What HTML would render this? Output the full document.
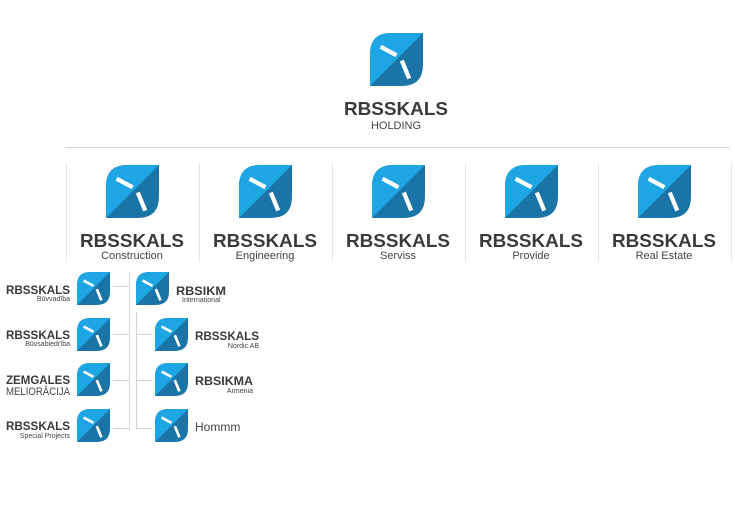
<!DOCTYPE html>
<html><head><meta charset="utf-8"><style>
html,body{margin:0;padding:0;background:#fff;width:735px;height:520px;overflow:hidden}
svg{display:block}
text{font-family:"Liberation Sans",sans-serif}
.b{font-weight:bold;fill:#3a3a3c}
.s{fill:#444}
</style></head><body>
<svg width="735" height="520" viewBox="0 0 735 520" xmlns="http://www.w3.org/2000/svg">
<defs>
<clipPath id="lc"><path d="M0,100 L0,40 Q0,0 40,0 L100,0 L100,60 Q100,100 60,100 Z"/></clipPath>
<g id="ic">
<path d="M0,100 L0,40 Q0,0 40,0 L100,0 L100,60 Q100,100 60,100 Z" fill="#1a74a6"/>
<polygon points="0,100 0,0 100,0" fill="#1ea6e4" clip-path="url(#lc)"/>
<line x1="20" y1="26" x2="50" y2="42" stroke="#fff" stroke-width="8"/>
<line x1="60" y1="52" x2="74" y2="86" stroke="#fff" stroke-width="8"/>
</g>
</defs>
<use href="#ic" transform="translate(370,33) scale(0.53)"/>
<text x="396" y="115" text-anchor="middle" class="b" font-size="18" textLength="104" lengthAdjust="spacingAndGlyphs">RBSSKALS</text>
<text x="396" y="129" text-anchor="middle" class="s" font-size="11">HOLDING</text>
<line x1="65" y1="147.5" x2="730" y2="147.5" stroke="#d8d8d8"/>
<g stroke="#e6e6e6">
<line x1="66.5" y1="163" x2="66.5" y2="262"/>
<line x1="199.5" y1="163" x2="199.5" y2="262"/>
<line x1="332.5" y1="163" x2="332.5" y2="262"/>
<line x1="465.5" y1="163" x2="465.5" y2="262"/>
<line x1="598.5" y1="163" x2="598.5" y2="262"/>
<line x1="731.5" y1="163" x2="731.5" y2="262"/>
</g>
<g>
<use href="#ic" transform="translate(106,165) scale(0.53)"/>
<use href="#ic" transform="translate(239,165) scale(0.53)"/>
<use href="#ic" transform="translate(372,165) scale(0.53)"/>
<use href="#ic" transform="translate(505,165) scale(0.53)"/>
<use href="#ic" transform="translate(638,165) scale(0.53)"/>
</g>
<g class="b" font-size="18" text-anchor="middle">
<text x="132" y="247" textLength="104" lengthAdjust="spacingAndGlyphs">RBSSKALS</text>
<text x="265" y="247" textLength="104" lengthAdjust="spacingAndGlyphs">RBSSKALS</text>
<text x="398" y="247" textLength="104" lengthAdjust="spacingAndGlyphs">RBSSKALS</text>
<text x="531" y="247" textLength="104" lengthAdjust="spacingAndGlyphs">RBSSKALS</text>
<text x="664" y="247" textLength="104" lengthAdjust="spacingAndGlyphs">RBSSKALS</text>
</g>
<g class="s" font-size="11" text-anchor="middle">
<text x="132" y="259">Construction</text>
<text x="265" y="259">Engineering</text>
<text x="398" y="259">Serviss</text>
<text x="531" y="259">Provide</text>
<text x="664" y="259">Real Estate</text>
</g>
<g stroke="#d4d4d4">
<line x1="129.5" y1="272" x2="129.5" y2="430"/>
<line x1="136.5" y1="312" x2="136.5" y2="430"/>
<line x1="113" y1="286.5" x2="129" y2="286.5"/>
<line x1="113" y1="334.5" x2="129" y2="334.5"/>
<line x1="113" y1="380.5" x2="129" y2="380.5"/>
<line x1="113" y1="428.5" x2="129" y2="428.5"/>
<line x1="137" y1="334.5" x2="152" y2="334.5"/>
<line x1="137" y1="380.5" x2="152" y2="380.5"/>
<line x1="137" y1="428.5" x2="152" y2="428.5"/>
</g>
<use href="#ic" transform="translate(77,272) scale(0.33)"/>
<use href="#ic" transform="translate(77,318) scale(0.33)"/>
<use href="#ic" transform="translate(77,363) scale(0.33)"/>
<use href="#ic" transform="translate(77,409) scale(0.33)"/>
<use href="#ic" transform="translate(136,272) scale(0.33)"/>
<use href="#ic" transform="translate(155,318) scale(0.33)"/>
<use href="#ic" transform="translate(155,363) scale(0.33)"/>
<use href="#ic" transform="translate(155,409) scale(0.33)"/>
<g class="b" font-size="12" text-anchor="end">
<text x="70" y="294" textLength="64" lengthAdjust="spacingAndGlyphs">RBSSKALS</text>
<text x="70" y="339" textLength="64" lengthAdjust="spacingAndGlyphs">RBSSKALS</text>
<text x="70" y="384" textLength="64" lengthAdjust="spacingAndGlyphs">ZEMGALES</text>
<text x="70" y="430" textLength="64" lengthAdjust="spacingAndGlyphs">RBSSKALS</text>
</g>
<g class="s" font-size="7" text-anchor="end">
<text x="70" y="301">Būvvadība</text>
<text x="70" y="346">Būvsabiedrība</text>
<text x="70" y="438">Special Projects</text>
</g>
<text x="70" y="395" text-anchor="end" class="s" font-size="11" textLength="64" lengthAdjust="spacingAndGlyphs">MELIORĀCIJA</text>
<g class="b" font-size="12">
<text x="176" y="295" textLength="50" lengthAdjust="spacingAndGlyphs">RBSIKM</text>
<text x="195" y="340" textLength="64" lengthAdjust="spacingAndGlyphs">RBSSKALS</text>
<text x="195" y="385" textLength="58" lengthAdjust="spacingAndGlyphs">RBSIKMA</text>
</g>
<g class="s" font-size="7">
<text x="182" y="302">International</text>
<text x="259" y="348" text-anchor="end">Nordic AB</text>
<text x="253" y="393" text-anchor="end">Armenia</text>
</g>
<text x="195" y="431" class="s" font-size="12">Hommm</text>
</svg>
</body></html>
